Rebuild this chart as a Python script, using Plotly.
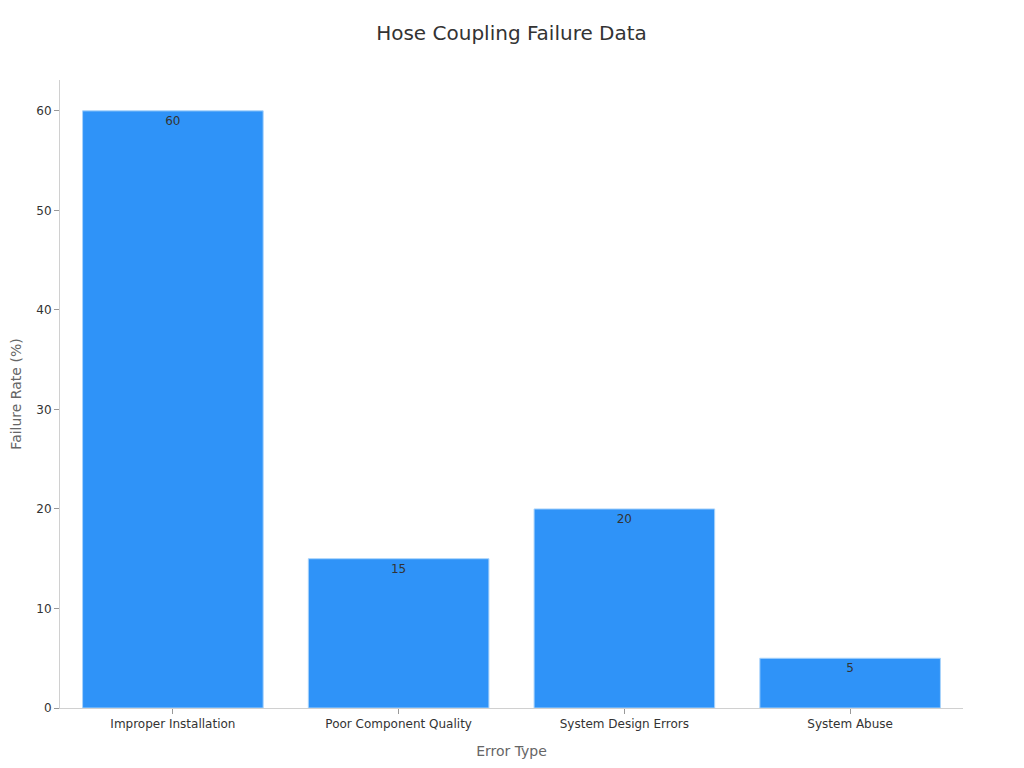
import plotly.graph_objects as go

categories = ["Improper Installation", "Poor Component Quality", "System Design Errors", "System Abuse"]
failure_rate = [60, 15, 20, 5]

fig = go.Figure()
fig.add_trace(go.Bar(
    x=categories,
    y=failure_rate,
    text=failure_rate,
    textposition="inside",
    insidetextanchor="end",
    textfont=dict(color="#333333", size=12),
    marker=dict(color="#2f93f8", line=dict(color="#a9d3fb", width=1)),
))

fig.update_layout(
    width=1024, height=768,
    title=dict(text="Hose Coupling Failure Data", xref="paper", x=0.5, xanchor="center",
               y=1 - 25 / 768, yanchor="middle",
               font=dict(size=20, color="#333333")),
    font=dict(family="DejaVu Sans", size=12, color="#333333"),
    plot_bgcolor="white", paper_bgcolor="white",
    margin=dict(l=52, r=69, t=72, b=68),
    bargap=0.2,
    showlegend=False,
)
fig.update_xaxes(
    title=dict(text="Error Type", font=dict(size=14, color="#666666")),
    showline=True, linecolor="#d0d0d0", linewidth=1,
    ticks="outside", tickcolor="#999999", ticklen=5,
    tickfont=dict(size=12, color="#333333"),
    automargin=False,
)
fig.update_yaxes(
    title=dict(text="Failure Rate (%)", font=dict(size=14, color="#666666")),
    range=[0, 63.1],
    dtick=10,
    showgrid=False, zeroline=False,
    showline=True, linecolor="#d0d0d0", linewidth=1,
    ticks="outside", tickcolor="#999999", ticklen=5,
    tickfont=dict(size=12, color="#333333"),
    automargin=False,
)

fig.write_html("out.html")
